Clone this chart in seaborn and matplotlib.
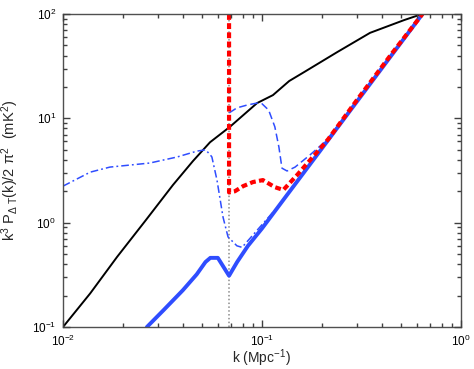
import numpy as np
import pandas as pd
import seaborn as sns
import matplotlib.pyplot as plt

# =========================
# Data
# =========================
k_res = 0.0683  # position of the dotted vertical line

k_black = [0.01, 0.0137, 0.0187, 0.026, 0.0357, 0.045, 0.0548, 0.069,
           0.0944, 0.1135, 0.137, 0.163, 0.238, 0.349, 0.518, 0.637]
p_black = [0.1, 0.21, 0.47, 1.05, 2.3, 3.9, 5.9, 8.3,
           14.0, 16.7, 22.8, 27.8, 43.0, 66.0, 87.5, 100.0]

k_dashdot = [0.01, 0.0137, 0.0172, 0.0273, 0.0374, 0.0471, 0.052, 0.0548,
             0.056, 0.0594, 0.0637, 0.0675, 0.0748, 0.0794, 0.0977, 0.12,
             0.2, 0.3, 0.45, 0.64]
p_dashdot = [2.24, 3.05, 3.41, 3.73, 4.26, 4.85, 5.0, 4.5,
             4.26, 2.56, 1.13, 0.73, 0.6, 0.58, 0.91, 1.42,
             5.15, 14.5, 40.8, 100.0]

k_dashed = [0.0685, 0.0748, 0.084, 0.094, 0.1, 0.108, 0.116, 0.1216,
            0.126, 0.1336, 0.1466, 0.174, 0.212, 0.3, 0.45, 0.64]
p_dashed = [11.3, 12.6, 13.4, 14.0, 13.8, 12.0, 8.3, 5.3,
            3.33, 3.13, 3.41, 4.45, 6.2, 14.8, 41.5, 100.0]

k_blue = [0.0264, 0.032, 0.040, 0.047, 0.052, 0.055, 0.060, 0.0683,
          0.075, 0.085, 0.1, 0.13, 0.2, 0.3, 0.45, 0.64]
p_blue = [0.1, 0.145, 0.225, 0.32, 0.42, 0.46, 0.46, 0.31,
          0.42, 0.60, 0.88, 1.72, 5.15, 14.5, 40.8, 100.0]

k_red = [0.0683, 0.0683, 0.073, 0.0804, 0.09, 0.101, 0.116, 0.128,
         0.15, 0.18, 0.215, 0.3, 0.45, 0.64]
p_red = [100.0, 1.95, 2.0, 2.24, 2.45, 2.56, 2.19, 2.06,
         2.86, 4.26, 6.3, 15.0, 42.0, 100.0]

# =========================
# Style
# =========================
sns.set_theme(style="ticks")
plt.rcParams["font.family"] = ["Liberation Sans", "DejaVu Sans"]
plt.rcParams["mathtext.fontset"] = "custom"
plt.rcParams["mathtext.rm"] = "Liberation Sans"
plt.rcParams["mathtext.it"] = "Liberation Sans"
plt.rcParams["mathtext.bf"] = "Liberation Sans:bold"

blue = "#2f4dff"

# =========================
# Plot
# =========================
fig = plt.figure(figsize=(4.74, 3.69), dpi=100)
ax = fig.add_axes([0.1329, 0.1138, 0.8397, 0.8482])

ax.axvline(k_res, color="#8c8c8c", lw=1.1, ls=(0, (1, 1.5)), zorder=1)

sns.lineplot(x=k_black, y=p_black, estimator=None, sort=False, ax=ax,
             color="black", lw=1.4, zorder=2)
sns.lineplot(x=k_dashdot, y=p_dashdot, estimator=None, sort=False, ax=ax,
             color=blue, lw=1.1, zorder=2.2)
ax.lines[-1].set_linestyle((0, (5, 2, 1.2, 2)))
sns.lineplot(x=k_dashed, y=p_dashed, estimator=None, sort=False, ax=ax,
             color=blue, lw=1.1, zorder=2.2)
ax.lines[-1].set_linestyle((0, (5, 2.5)))
sns.lineplot(x=k_blue, y=p_blue, estimator=None, sort=False, ax=ax,
             color=blue, lw=2.8, zorder=2.3)
sns.lineplot(x=k_red, y=p_red, estimator=None, sort=False, ax=ax,
             color="red", lw=3.0, zorder=2.4)
ax.lines[-1].set_linestyle((0, (1.4, 0.8)))

ax.set_xscale("log")
ax.set_yscale("log")
ax.set_xlim(0.01, 1)
ax.set_ylim(0.1, 100)
ax.set_axisbelow(False)

for side in ["top", "bottom", "left", "right"]:
    ax.spines[side].set_visible(True)
    ax.spines[side].set_color("#505050")
    ax.spines[side].set_linewidth(1.0)

ax.tick_params(which="both", direction="in", top=True, right=True,
               color="#404040", width=1.0,
               labelsize=8.5, labelcolor="black")
ax.tick_params(which="major", length=5, pad=5)
ax.tick_params(which="minor", length=3)

ax.set_xlabel(r"k (Mpc$^{-1}$)", fontsize=10)
ax.set_ylabel(r"k$^3$ P$_{\Delta\ T}$(k)/2 $\pi^2$  (mK$^2$)", fontsize=10.5)
ax.xaxis.set_label_coords(0.5, -0.066)
ax.yaxis.set_label_coords(-0.105, 0.5)

plt.savefig("out.png", dpi=100)
